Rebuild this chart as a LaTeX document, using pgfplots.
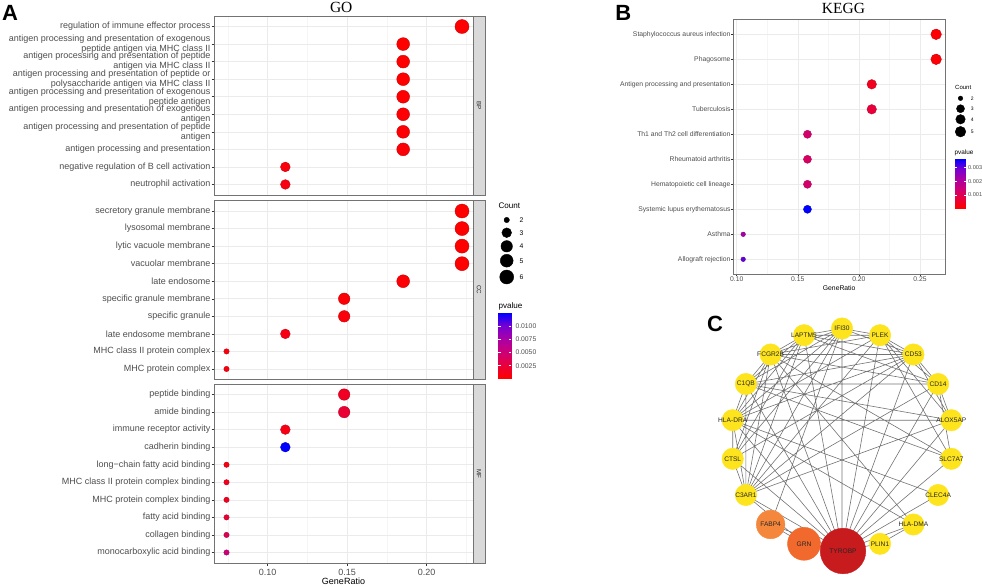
\documentclass[border=0pt]{standalone}
\usepackage{fontspec}
\setmainfont{Liberation Sans}
\newfontfamily\timesfont{Liberation Serif}
\usepackage{pgfplots}
\pgfplotsset{compat=1.18}

\definecolor{txtgrey}{RGB}{77,77,77}
\definecolor{nodeY}{RGB}{253,228,28}
\definecolor{nodeF}{RGB}{245,135,60}
\definecolor{nodeG}{RGB}{241,105,45}
\definecolor{nodeT}{RGB}{199,27,30}

\tikzset{
  strip/.style={draw=black!55, fill=black!15, line width=0.6pt},
  gofont/.style={font=\fontsize{9}{10}\selectfont},
  lg/.style={anchor=west, inner sep=0pt, font=\fontsize{6.8}{7}\selectfont},
  lk/.style={anchor=west, inner sep=0pt, font=\fontsize{5}{5}\selectfont},
  gn/.style={inner sep=0pt, font=\fontsize{6.6}{7}\selectfont, text=black!85},
}

\pgfplotsset{
  colormap={redblue}{rgb255=(255,0,0) rgb255=(232,0,60) rgb255=(205,0,120) rgb255=(170,0,165) rgb255=(120,0,210) rgb255=(0,0,255)},
  panel/.style={
    scale only axis, anchor=south west, clip=false,
    ymin=0.4, ymax=10.6, ytick={1,...,10},
    tick pos=left, tick align=outside,
    major tick length=2.5pt, minor tick length=0pt,
    tick style={black!80, line width=0.5pt},
    axis line style={black!55, line width=0.6pt},
    xmajorgrids, ymajorgrids, xminorgrids,
    major grid style={black!8, line width=0.6pt},
    minor grid style={black!4, line width=0.35pt},
    tick label style={text=txtgrey},
    yticklabel style={align=right},
  },
  godots/.style={scatter, only marks, mark=*, point meta=explicit,
    visualization depends on={2.7+4.3*sqrt((\thisrow{c}-2)/4) \as \msize},
    scatter/@pre marker code/.append style={/tikz/mark size=\msize}},
  keggdots/.style={scatter, only marks, mark=*, point meta=explicit,
    visualization depends on={2.3+3*sqrt((\thisrow{c}-2)/3) \as \msize},
    scatter/@pre marker code/.append style={/tikz/mark size=\msize}},
  pixelaxis/.style={scale only axis, anchor=south west, at={(0pt,0pt)}, width=982pt, height=586pt,
    xmin=0, xmax=982, ymin=0, ymax=586, y dir=reverse, hide axis, clip=false},
}

\begin{document}
\begin{tikzpicture}
\useasboundingbox (0,0) rectangle (982pt,586pt);

% ---------- GO: BP ----------
\begin{axis}[panel, at={(214pt,391pt)}, width=259pt, height=179pt,
  xmin=0.06623, xmax=0.22912, xtick={0.10,0.15,0.20},
  minor xtick={0.075,0.125,0.175,0.225},
  xticklabels={}, xmajorticks=false,
  point meta min=0.0001, point meta max=0.0125,
  yticklabels={neutrophil activation,
    negative regulation of B cell activation,
    antigen processing and presentation,
    {antigen processing and presentation of peptide\\antigen},
    {antigen processing and presentation of exogenous\\antigen},
    {antigen processing and presentation of exogenous\\peptide antigen},
    {antigen processing and presentation of peptide or\\polysaccharide antigen via MHC class II},
    {antigen processing and presentation of peptide\\antigen via MHC class II},
    {antigen processing and presentation of exogenous\\peptide antigen via MHC class II},
    regulation of immune effector process},
  yticklabel style={gofont, inner sep=0.8pt}]
\addplot[godots] table[x=x, y=y, meta=p] {
x y c p
0.2222 10 6 0.0002
0.1852 9 5 0.0001
0.1852 8 5 0.0001
0.1852 7 5 0.0001
0.1852 6 5 0.0002
0.1852 5 5 0.0003
0.1852 4 5 0.0003
0.1852 3 5 0.0004
0.1111 2 3 0.0006
0.1111 1 3 0.0008
};
\draw[strip] (rel axis cs:1,0) rectangle ([xshift=12pt]rel axis cs:1,1);
\node[rotate=-90, font=\fontsize{6.2}{7}\selectfont, text=black!85] at ([xshift=6pt]rel axis cs:1,0.5) {BP};
\end{axis}

% ---------- GO: CC ----------
\begin{axis}[panel, at={(214pt,206.5pt)}, width=259pt, height=179pt,
  xmin=0.06623, xmax=0.22912, xtick={0.10,0.15,0.20},
  minor xtick={0.075,0.125,0.175,0.225},
  xticklabels={}, xmajorticks=false,
  point meta min=0.0001, point meta max=0.0125,
  yticklabels={MHC protein complex, MHC class II protein complex,
    late endosome membrane, specific granule, specific granule membrane,
    late endosome, vacuolar membrane, lytic vacuole membrane,
    lysosomal membrane, secretory granule membrane},
  yticklabel style={gofont, inner sep=0.8pt}]
\addplot[godots] table[x=x, y=y, meta=p] {
x y c p
0.2222 10 6 0.0001
0.2222 9 6 0.0001
0.2222 8 6 0.0001
0.2222 7 6 0.0002
0.1852 6 5 0.0003
0.1481 5 4 0.0004
0.1481 4 4 0.0005
0.1111 3 3 0.0009
0.0741 2 2 0.0006
0.0741 1 2 0.0007
};
\draw[strip] (rel axis cs:1,0) rectangle ([xshift=12pt]rel axis cs:1,1);
\node[rotate=-90, font=\fontsize{6.2}{7}\selectfont, text=black!85] at ([xshift=6pt]rel axis cs:1,0.5) {CC};
\end{axis}

% ---------- GO: MF ----------
\begin{axis}[panel, at={(214pt,23pt)}, width=259pt, height=179pt,
  xmin=0.06623, xmax=0.22912, xtick={0.10,0.15,0.20},
  minor xtick={0.075,0.125,0.175,0.225},
  xticklabels={0.10,0.15,0.20},
  xticklabel style={gofont},
  xlabel={GeneRatio},
  xlabel style={gofont, text=black, at={(axis description cs:0.5,0)}, anchor=center, yshift=-18.7pt},
  point meta min=0.0001, point meta max=0.0125,
  yticklabels={monocarboxylic acid binding, collagen binding, fatty acid binding,
    MHC protein complex binding, MHC class II protein complex binding,
    long−chain fatty acid binding, cadherin binding, immune receptor activity,
    amide binding, peptide binding},
  yticklabel style={gofont, inner sep=0.8pt}]
\addplot[godots] table[x=x, y=y, meta=p] {
x y c p
0.1481 10 4 0.0016
0.1481 9 4 0.0022
0.1111 8 3 0.0010
0.1111 7 3 0.0125
0.0741 6 2 0.0008
0.0741 5 2 0.0013
0.0741 4 2 0.0015
0.0741 3 2 0.0022
0.0741 2 2 0.0036
0.0741 1 2 0.0050
};
\draw[strip] (rel axis cs:1,0) rectangle ([xshift=12pt]rel axis cs:1,1);
\node[rotate=-90, font=\fontsize{6.2}{7}\selectfont, text=black!85] at ([xshift=6pt]rel axis cs:1,0.5) {MF};
\end{axis}

% ---------- GO colour bar ----------
\begin{axis}[scale only axis, anchor=south west, at={(498.3pt,207.7pt)}, width=12.7pt, height=65pt,
  xmin=0, xmax=1, ymin=0.0001, ymax=0.0125,
  point meta min=0.0001, point meta max=0.0125,
  axis on top, axis line style={draw=none}, xtick=\empty, scaled y ticks=false,
  ytick={0.0025,0.005,0.0075,0.01}, yticklabels={0.0025,0.0050,0.0075,0.0100},
  ytick pos=both, yticklabel pos=right, tick align=inside, major tick length=2.5pt,
  tick style={white, line width=0.5pt},
  yticklabel style={font=\fontsize{6.8}{7}\selectfont, text=txtgrey, inner sep=0pt, xshift=4.3pt}]
\addplot[surf, shader=interp, mesh/cols=2, point meta=y] table {
x y
0 0.0001
1 0.0001
0 0.0125
1 0.0125
};
\end{axis}

% ---------- KEGG ----------
\begin{axis}[panel, at={(733.3pt,311.7pt)}, width=211.7pt, height=255pt,
  xmin=0.09722, xmax=0.27046, xtick={0.10,0.15,0.20,0.25},
  minor xtick={0.125,0.175,0.225},
  xticklabels={0.10,0.15,0.20,0.25},
  major tick length=2pt,
  tick label style={font=\fontsize{6.8}{7}\selectfont},
  xticklabel style={inner sep=0.5pt},
  xlabel={GeneRatio},
  xlabel style={font=\fontsize{6.8}{7}\selectfont, text=black, at={(axis description cs:0.5,0)}, anchor=center, yshift=-13.4pt},
  point meta min=0.00003, point meta max=0.0036,
  yticklabels={Allograft rejection, Asthma, Systemic lupus erythematosus,
    Hematopoietic cell lineage, Rheumatoid arthritis, Th1 and Th2 cell differentiation,
    Tuberculosis, Antigen processing and presentation, Phagosome,
    Staphylococcus aureus infection},
  yticklabel style={inner sep=0.6pt}]
\addplot[keggdots] table[x=x, y=y, meta=p] {
x y c p
0.2632 10 5 0.0001
0.2632 9 5 0.0001
0.2105 8 4 0.0004
0.2105 7 4 0.0007
0.1579 6 3 0.0013
0.1579 5 3 0.0012
0.1579 4 3 0.0013
0.1579 3 3 0.0036
0.1053 2 2 0.0022
0.1053 1 2 0.0030
};
\end{axis}

% ---------- KEGG colour bar ----------
\begin{axis}[scale only axis, anchor=south west, at={(955pt,377.7pt)}, width=10.7pt, height=49.3pt,
  xmin=0, xmax=1, ymin=0.00003, ymax=0.0036,
  point meta min=0.00003, point meta max=0.0036,
  axis on top, axis line style={draw=none}, xtick=\empty, scaled y ticks=false,
  ytick={0.001,0.002,0.003}, yticklabels={0.001,0.002,0.003},
  ytick pos=both, yticklabel pos=right, tick align=inside, major tick length=2pt,
  tick style={white, line width=0.4pt},
  yticklabel style={font=\fontsize{5.6}{6}\selectfont, text=txtgrey, inner sep=0pt, xshift=2.2pt}]
\addplot[surf, shader=interp, mesh/cols=2, point meta=y] table {
x y
0 0.00003
1 0.00003
0 0.0036
1 0.0036
};
\end{axis}

% ---------- overlay in picture pixels: legends, network ----------
\begin{axis}[pixelaxis]

% count legends
\addplot[scatter/use mapped color={draw=black, fill=black}, godots, point meta=\thisrow{c}] table {
x y c
506.7 220 2
506.7 232.7 3
506.7 246.3 4
506.7 260.7 5
506.7 277 6
};
\addplot[scatter/use mapped color={draw=black, fill=black}, keggdots, point meta=\thisrow{c}] table {
x y c
960.5 98.3 2
960.5 108.7 3
960.5 119.3 4
960.5 131.7 5
};

% network edges
\addplot[draw=black!55, line width=0.6pt, unbounded coords=jump] coordinates {
(842,550.5) (842,328.5) (nan,nan)
(842,550.5) (804,335.2) (nan,nan)
(842,550.5) (770.6,354.5) (nan,nan)
(842,550.5) (745.9,384) (nan,nan)
(842,550.5) (732.7,420.2) (nan,nan)
(842,550.5) (732.7,458.8) (nan,nan)
(842,550.5) (745.9,495) (nan,nan)
(842,550.5) (770.6,524.5) (nan,nan)
(842,550.5) (804,543.8) (nan,nan)
(842,550.5) (880,543.8) (nan,nan)
(842,550.5) (913.4,524.5) (nan,nan)
(842,550.5) (938.1,495) (nan,nan)
(842,550.5) (951.3,458.8) (nan,nan)
(842,550.5) (951.3,420.2) (nan,nan)
(842,550.5) (938.1,384) (nan,nan)
(842,550.5) (913.4,354.5) (nan,nan)
(842,550.5) (880,335.2) (nan,nan)
(745.9,495) (842,328.5) (nan,nan)
(745.9,495) (804,335.2) (nan,nan)
(745.9,495) (770.6,354.5) (nan,nan)
(745.9,495) (745.9,384) (nan,nan)
(745.9,495) (732.7,420.2) (nan,nan)
(745.9,495) (732.7,458.8) (nan,nan)
(745.9,495) (880,335.2) (nan,nan)
(745.9,495) (913.4,354.5) (nan,nan)
(745.9,495) (938.1,384) (nan,nan)
(745.9,495) (951.3,420.2) (nan,nan)
(745.9,495) (804,543.8) (nan,nan)
(745.9,384) (804,335.2) (nan,nan)
(745.9,384) (842,328.5) (nan,nan)
(745.9,384) (770.6,354.5) (nan,nan)
(745.9,384) (732.7,420.2) (nan,nan)
(745.9,384) (913.4,354.5) (nan,nan)
(745.9,384) (938.1,384) (nan,nan)
(745.9,384) (951.3,420.2) (nan,nan)
(745.9,384) (951.3,458.8) (nan,nan)
(770.6,354.5) (804,335.2) (nan,nan)
(770.6,354.5) (842,328.5) (nan,nan)
(770.6,354.5) (880,335.2) (nan,nan)
(770.6,354.5) (913.4,354.5) (nan,nan)
(770.6,354.5) (938.1,384) (nan,nan)
(770.6,354.5) (732.7,420.2) (nan,nan)
(770.6,354.5) (732.7,458.8) (nan,nan)
(770.6,354.5) (951.3,458.8) (nan,nan)
(770.6,354.5) (913.4,524.5) (nan,nan)
(804,335.2) (842,328.5) (nan,nan)
(804,335.2) (880,335.2) (nan,nan)
(804,335.2) (913.4,354.5) (nan,nan)
(804,335.2) (732.7,420.2) (nan,nan)
(804,335.2) (732.7,458.8) (nan,nan)
(804,335.2) (938.1,384) (nan,nan)
(842,328.5) (880,335.2) (nan,nan)
(842,328.5) (913.4,354.5) (nan,nan)
(842,328.5) (732.7,420.2) (nan,nan)
(842,328.5) (732.7,458.8) (nan,nan)
(842,328.5) (770.6,524.5) (nan,nan)
(880,335.2) (913.4,354.5) (nan,nan)
(880,335.2) (938.1,384) (nan,nan)
(880,335.2) (951.3,420.2) (nan,nan)
(880,335.2) (732.7,420.2) (nan,nan)
(880,335.2) (951.3,458.8) (nan,nan)
(913.4,354.5) (938.1,384) (nan,nan)
(913.4,354.5) (951.3,420.2) (nan,nan)
(913.4,354.5) (732.7,458.8) (nan,nan)
(913.4,354.5) (732.7,420.2) (nan,nan)
(938.1,384) (951.3,420.2) (nan,nan)
(938.1,384) (951.3,458.8) (nan,nan)
(951.3,420.2) (732.7,420.2) (nan,nan)
(732.7,420.2) (732.7,458.8) (nan,nan)
(732.7,420.2) (913.4,524.5) (nan,nan)
(732.7,420.2) (938.1,495) (nan,nan)
(913.4,524.5) (880,543.8) (nan,nan)
(770.6,524.5) (804,543.8)
};

% network nodes
\addplot[only marks, mark=*, mark size=14.3, mark options={draw=nodeF, fill=nodeF}] coordinates {(770.6,524.5)};
\addplot[only marks, mark=*, mark size=16.5, mark options={draw=nodeG, fill=nodeG}] coordinates {(804,543.8)};
\addplot[only marks, mark=*, mark size=22.8, mark options={draw=nodeT, fill=nodeT}] coordinates {(843,551)};
\addplot[only marks, mark=*, mark size=10.7, mark options={draw=nodeY, fill=nodeY}] coordinates {
(842,328.5) (804,335.2) (770.6,354.5) (745.9,384) (732.7,420.2) (732.7,458.8)
(745.9,495) (880,543.8) (913.4,524.5) (938.1,495) (951.3,458.8) (951.3,420.2)
(938.1,384) (913.4,354.5) (880,335.2)};
\end{axis}

% ---------- text on top: legend titles, gene names, titles, letters ----------
\begin{axis}[pixelaxis]
\node[anchor=west, inner sep=0pt, font=\fontsize{8.1}{9}\selectfont] at (axis cs:498.3,205.7) {Count};
\node[anchor=west, inner sep=0pt, font=\fontsize{8.1}{9}\selectfont] at (axis cs:498.3,306) {pvalue};
\node[lg] at (axis cs:519.3,220) {2};
\node[lg] at (axis cs:519.3,232.7) {3};
\node[lg] at (axis cs:519.3,246.3) {4};
\node[lg] at (axis cs:519.3,260.7) {5};
\node[lg] at (axis cs:519.3,277) {6};
\node[anchor=west, inner sep=0pt, font=\fontsize{6}{7}\selectfont] at (axis cs:955,87.3) {Count};
\node[anchor=west, inner sep=0pt, font=\fontsize{6.4}{7}\selectfont] at (axis cs:954.3,152.7) {pvalue};
\node[lk] at (axis cs:970.7,98.3) {2};
\node[lk] at (axis cs:970.7,108.7) {3};
\node[lk] at (axis cs:970.7,119.3) {4};
\node[lk] at (axis cs:970.7,131.7) {5};

\node[gn] at (axis cs:842,328.5) {IFI30};
\node[gn] at (axis cs:804,335.2) {LAPTM5};
\node[gn] at (axis cs:770.6,354.5) {FCGR2B};
\node[gn] at (axis cs:745.9,384) {C1QB};
\node[gn] at (axis cs:732.7,420.2) {HLA-DRA};
\node[gn] at (axis cs:732.7,458.8) {CTSL};
\node[gn] at (axis cs:745.9,495) {C3AR1};
\node[gn] at (axis cs:770.6,524.5) {FABP4};
\node[gn] at (axis cs:804,543.8) {GRN};
\node[gn] at (axis cs:843,551) {TYROBP};
\node[gn] at (axis cs:880,543.8) {PLIN1};
\node[gn] at (axis cs:913.4,524.5) {HLA-DMA};
\node[gn] at (axis cs:938.1,495) {CLEC4A};
\node[gn] at (axis cs:951.3,458.8) {SLC7A7};
\node[gn] at (axis cs:951.3,420.2) {ALOX5AP};
\node[gn] at (axis cs:938.1,384) {CD14};
\node[gn] at (axis cs:913.4,354.5) {CD53};
\node[gn] at (axis cs:880,335.2) {PLEK};

\node[anchor=base, inner sep=0pt, font=\timesfont\fontsize{15.5}{16}\selectfont] at (axis cs:341.2,12.2) {GO};
\node[anchor=base, inner sep=0pt, font=\timesfont\fontsize{15.5}{16}\selectfont] at (axis cs:843.5,14) {KEGG};
\node[anchor=base, inner sep=0pt, font=\bfseries\fontsize{22}{22}\selectfont] at (axis cs:10,20.7) {A};
\node[anchor=base, inner sep=0pt, font=\bfseries\fontsize{22}{22}\selectfont] at (axis cs:623.3,20.7) {B};
\node[anchor=base, inner sep=0pt, font=\bfseries\fontsize{22}{22}\selectfont] at (axis cs:715,331.7) {C};
\end{axis}
\end{tikzpicture}
\end{document}
